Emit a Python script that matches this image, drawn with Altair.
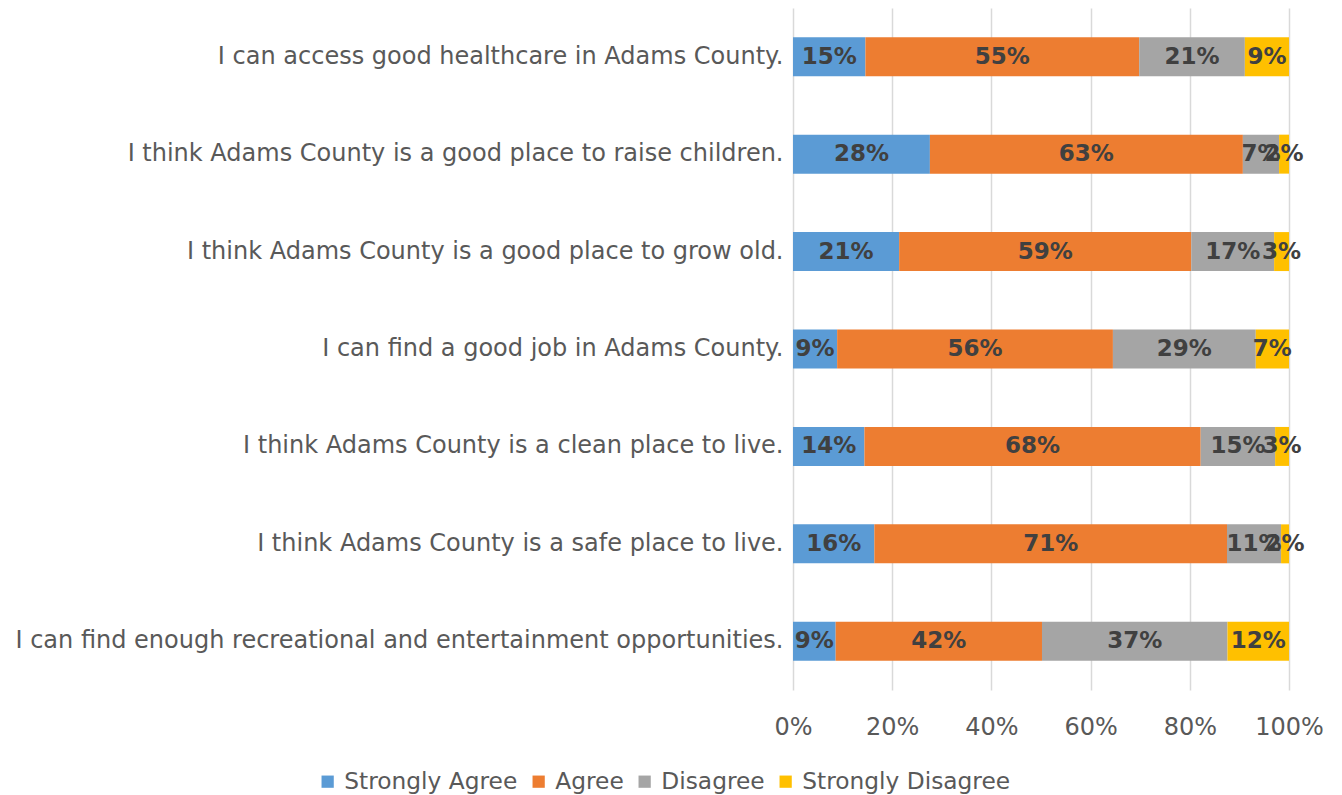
import altair as alt
import pandas as pd

statements = [
    "I can access good healthcare in Adams County.",
    "I think Adams County is a good place to raise children.",
    "I think Adams County is a good place to grow old.",
    "I can find a good job in Adams County.",
    "I think Adams County is a clean place to live.",
    "I think Adams County is a safe place to live.",
    "I can find enough recreational and entertainment opportunities.",
]
categories = ["Strongly Agree", "Agree", "Disagree", "Strongly Disagree"]
colors = ["#5B9BD5", "#ED7D31", "#A5A5A5", "#FFC000"]

strongly_agree = [14.6, 27.6, 21.4, 8.9, 14.4, 16.4, 8.6]
agree = [55.2, 63.1, 58.9, 55.6, 67.8, 71.1, 41.6]
disagree = [21.3, 7.3, 16.7, 28.8, 15.0, 10.9, 37.4]
strongly_disagree = [8.9, 2.0, 3.0, 6.7, 2.8, 1.6, 12.4]

tick_values = [0, 20, 40, 60, 80, 100]

series = [strongly_agree, agree, disagree, strongly_disagree]
rows = []
for i, s in enumerate(statements):
    for j, c in enumerate(categories):
        rows.append({"statement": s, "category": c, "order": j, "value": series[j][i]})
df = pd.DataFrame(rows)

FONT = "DejaVu Sans"
FS = 24

base = alt.Chart(df).transform_stack(
    stack="value", groupby=["statement"], as_=["x0", "x1"],
    sort=[alt.SortField("order", order="ascending")],
).transform_calculate(
    mid="(datum.x0 + datum.x1) / 2",
    label="format(datum.value, '.0f') + '%'",
)

y_scale = alt.Scale(paddingInner=0.6, paddingOuter=0.3)
x_scale = alt.Scale(domain=[0, 100], nice=False)

bars = base.mark_bar().encode(
    y=alt.Y("statement:N", sort=statements, scale=y_scale,
            axis=alt.Axis(title=None, domain=False, ticks=False, labelPadding=10,
                          labelFontSize=FS, labelColor="#595959", labelFont=FONT,
                          labelLimit=1000, grid=False)),
    x=alt.X("x0:Q", scale=x_scale,
            axis=alt.Axis(values=tick_values, labelExpr="datum.value + '%'",
                          title=None, domain=False, ticks=False, grid=True,
                          gridColor="#D9D9D9", gridWidth=1.5, labelPadding=25,
                          labelFlush=False, labelOverlap=False,
                          labelFontSize=FS, labelColor="#595959", labelFont=FONT)),
    x2="x1:Q",
    color=alt.Color("category:N", sort=categories,
                    scale=alt.Scale(domain=categories, range=colors),
                    legend=alt.Legend(title=None, orient="none", direction="horizontal",
                                      legendX=-477, legendY=762,
                                      symbolType="square", symbolSize=150,
                                      symbolStrokeWidth=0, labelFontSize=23.3,
                                      labelColor="#595959", labelFont=FONT,
                                      labelOffset=5, columnPadding=9,
                                      labelLimit=400)),
    order=alt.Order("order:Q"),
)

text = base.mark_text(font=FONT, fontWeight="bold", fontSize=23,
                      color="#404040", baseline="middle", align="center").encode(
    y=alt.Y("statement:N", sort=statements),
    x=alt.X("mid:Q"),
    text="label:N",
)

chart = alt.layer(bars, text).properties(
    width=496, height=682,
    background="white",
    autosize=alt.AutoSizeParams(type="none"),
    padding={"left": 785, "top": 0, "right": 45, "bottom": 115},
).configure_view(strokeWidth=0, stroke="transparent")

chart.save("out.html", embed_options={"renderer": "svg", "actions": False})
